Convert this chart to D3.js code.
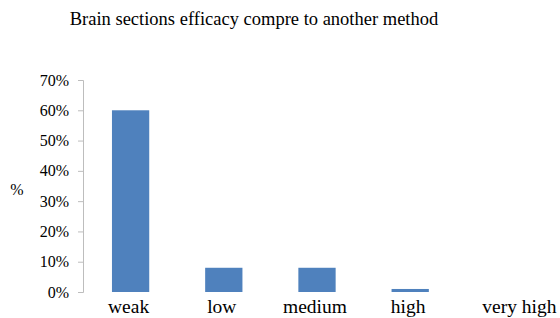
<!DOCTYPE html>
<html>
<head>
<meta charset="utf-8">
<script src="https://cdn.jsdelivr.net/npm/d3@7"></script>
<style>
  body { margin: 0; background: #fff; }
  text { font-family: "Liberation Serif", "DejaVu Serif", serif; fill: #000; }
</style>
</head>
<body>
<div id="chart"></div>
<script>
var categories = ["weak", "low", "medium", "high", "very high"];
var values = [0.60, 0.08, 0.08, 0.01, 0];
var yTicks = [0, 0.1, 0.2, 0.3, 0.4, 0.5, 0.6, 0.7];

var W = 560, H = 318;
var margin = {top: 80, right: 10, bottom: 26, left: 84};

var svg = d3.select("#chart")
    .append("svg")
    .attr("width", W)
    .attr("height", H);

var x = d3.scaleBand()
    .domain(categories)
    .range([margin.left, 550])
    .paddingInner(0.6)
    .paddingOuter(0.3);

var y = d3.scaleLinear()
    .domain([0, 0.7])
    .range([292, 80]);

// y axis
var yAxis = svg.append("g")
    .attr("transform", "translate(" + (margin.left - 1) + ",0)")
    .call(d3.axisLeft(y).tickValues(yTicks).tickSize(5).tickPadding(9).tickFormat(d3.format(".0%")));
yAxis.selectAll("path, line").attr("stroke", "#bdbdbd");
yAxis.selectAll("text").style("font-size", "16px");

// bars
svg.selectAll(".bar")
    .data(values)
    .enter()
    .append("rect")
    .attr("class", "bar")
    .attr("x", function (d, i) { return x(categories[i]); })
    .attr("y", function (d) { return y(d); })
    .attr("width", x.bandwidth())
    .attr("height", function (d) { return y(0) - y(d); })
    .attr("fill", "#4f81bd");

// category labels (last one sits a bit right, as in the original)
svg.selectAll(".cat")
    .data(categories)
    .enter()
    .append("text")
    .attr("class", "cat")
    .attr("x", function (d) { return x(d) + x.bandwidth() / 2; })
    .attr("dx", function (d, i) { return i == categories.length - 1 ? 16 : -2; })
    .attr("y", 313)
    .attr("text-anchor", "middle")
    .style("font-size", "19.5px")
    .text(function (d) { return d; });

// y label
svg.append("text")
    .attr("x", 17)
    .attr("y", 195)
    .attr("text-anchor", "middle")
    .style("font-size", "16px")
    .text("%");

// title
svg.append("text")
    .attr("x", 254)
    .attr("y", 25)
    .attr("text-anchor", "middle")
    .style("font-size", "18.5px")
    .text("Brain sections efficacy compre to another method");
</script>
</body>
</html>
